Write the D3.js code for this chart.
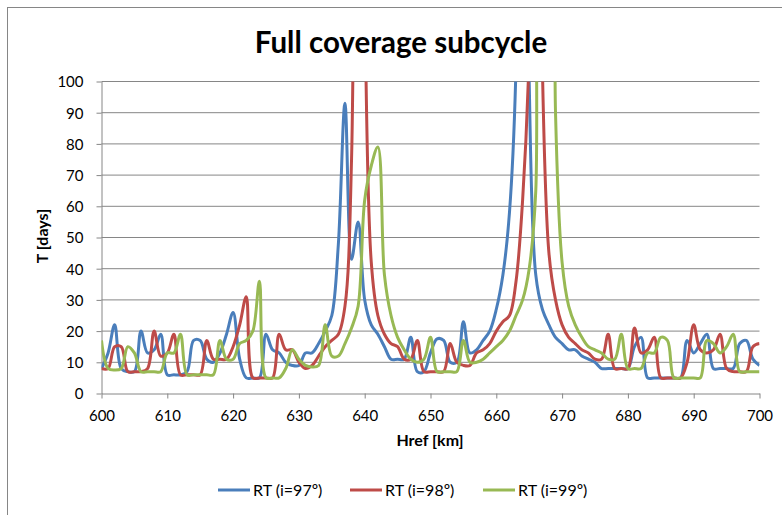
<!DOCTYPE html>
<html>
<head>
<meta charset="utf-8">
<script src="https://cdn.jsdelivr.net/npm/d3@7"></script>
<style>
  body { margin: 0; background: #fff; }
  text { font-family: Lato, "Open Sans", sans-serif; fill: #000; }
</style>
</head>
<body>
<div id="wrapper"></div>
<script>
// Href [km], one sample per km
const hrefKm = d3.range(600, 701);

// T [days] for each inclination
const rt97 = [8, 13, 22, 8, 7, 7, 20, 13, 14, 19,
  6, 6, 6, 7, 17, 17, 11, 10, 13, 19,
  26, 11, 5, 5, 5, 19, 14, 13, 10, 9,
  9, 13, 13, 16, 20, 25, 48, 93, 43, 55,
  30, 22, 19, 15, 11, 11, 11, 18, 7, 7,
  13, 17.5, 17, 10, 10, 23, 13, 14, 17, 20,
  27, 38, 58, 105, 400, 100, 38, 27, 22, 18,
  16, 14, 14, 12, 11, 10, 8, 8, 8, 8,
  8, 15, 18, 5, 5, 5, 5, 5, 5, 17,
  13, 16, 19, 8, 8, 8, 8, 16, 17, 11,
  9];
const rt98 = [8, 8, 15, 15, 7, 7, 7, 8, 20, 12,
  13, 19, 6, 6, 6, 6, 17, 11, 11, 11,
  15, 22, 31, 5, 5, 5, 5, 19, 14, 14,
  10, 8, 9, 12, 15, 17, 19, 28, 75, 400,
  130, 42, 25, 19, 16, 15, 11, 11, 17, 7,
  7, 7, 7, 16, 10, 9, 9, 13, 14, 16,
  20, 23, 25, 36, 62, 110, 400, 105, 45, 30,
  22, 18, 16, 14, 13, 11, 11, 19, 8, 8,
  8, 21, 13, 14, 18, 5, 5, 5, 5, 10,
  22, 14, 13, 14, 19, 8, 7, 7, 7, 15,
  16];
const rt99 = [17, 8, 7.5, 8, 15, 13, 7, 7, 7, 7,
  13, 13, 19, 6, 6, 6, 6, 6, 17, 11,
  11, 16, 17, 20, 36, 5, 5, 5, 8, 14,
  11, 9, 8.5, 9, 22, 12, 12, 16, 21, 28,
  62, 73, 79, 38, 25, 18, 14, 11, 10, 11,
  18, 7, 7, 7, 7, 17, 10, 10, 11, 13,
  15, 17, 20, 25, 30, 40, 65, 400, 400, 90,
  42, 28, 22, 18, 15, 14, 13, 11, 11, 19,
  8, 8, 8, 13, 13, 18, 17, 5, 5, 5,
  5, 5, 17, 16, 13, 15, 19, 7, 7, 7,
  7];

const seriesNames = ["RT (i=97º)", "RT (i=98º)", "RT (i=99º)"];
const seriesColors = ["#4a7ebb", "#be4b48", "#98b954"];
const xTicks = [600, 610, 620, 630, 640, 650, 660, 670, 680, 690, 700];
const yTicks = [0, 10, 20, 30, 40, 50, 60, 70, 80, 90, 100];

const dimensions = {
  width: 782,
  height: 515,
  margin: {top: 81.5, left: 101.5, bottom: 121.5, right: 22.5}
};
dimensions.boundedWidth = dimensions.width - dimensions.margin.left - dimensions.margin.right;
dimensions.boundedHeight = dimensions.height - dimensions.margin.top - dimensions.margin.bottom;

const wrapper = d3.select("#wrapper").append("svg")
  .attr("width", dimensions.width)
  .attr("height", dimensions.height);

// chart area frame
wrapper.append("rect")
  .attr("x", 7.5).attr("y", 7.5)
  .attr("width", 800).attr("height", 600)
  .attr("fill", "none")
  .attr("stroke", "#868686");

const container = wrapper.append("g")
  .attr("transform", `translate(${dimensions.margin.left}, ${dimensions.margin.top})`);

const xScale = d3.scaleLinear().domain([600, 700]).range([0, dimensions.boundedWidth]);
const yScale = d3.scaleLinear().domain([0, 100]).range([dimensions.boundedHeight, 0]);

// gridlines
container.append("g")
  .selectAll("line")
  .data(yTicks.slice(1))
  .enter()
  .append("line")
  .attr("x1", 0)
  .attr("x2", dimensions.boundedWidth)
  .attr("y1", d => yScale(d))
  .attr("y2", d => yScale(d))
  .attr("stroke", "#868686")
  .attr("stroke-width", 1);

// axes
const axisX = container.append("g")
  .attr("transform", `translate(0, ${dimensions.boundedHeight})`)
  .call(d3.axisBottom(xScale).tickValues(xTicks).tickSize(5).tickSizeOuter(0).tickPadding(12));
const axisY = container.append("g")
  .call(d3.axisLeft(yScale).tickValues(yTicks).tickSize(5).tickSizeOuter(0).tickPadding(13));

[axisX, axisY].forEach(a => {
  a.select(".domain").attr("stroke", "#868686");
  a.selectAll(".tick line").attr("stroke", "#868686");
  a.selectAll(".tick text")
    .style("font-family", "Lato, sans-serif")
    .style("font-size", "15px")
    .attr("fill", "#000");
});
axisY.selectAll(".tick text").attr("dy", "0.36em");

// lines, clipped to the plot area
container.append("clipPath").attr("id", "plotClip")
  .append("rect")
  .attr("x", 0).attr("y", 0)
  .attr("width", dimensions.boundedWidth)
  .attr("height", dimensions.boundedHeight);

const lineGen = d3.line()
  .x((d, i) => xScale(hrefKm[i]))
  .y(d => yScale(d))
  .curve(d3.curveCatmullRom.alpha(0.5));

const lines = container.append("g").attr("clip-path", "url(#plotClip)");
[rt97, rt98, rt99].forEach((s, k) => {
  lines.append("path")
    .datum(s)
    .attr("d", lineGen)
    .attr("fill", "none")
    .attr("stroke", seriesColors[k])
    .attr("stroke-width", 3)
    .attr("stroke-linejoin", "round");
});

// title
wrapper.append("text")
  .attr("x", 401)
  .attr("y", 53)
  .attr("text-anchor", "middle")
  .style("font-size", "29.5px")
  .style("font-weight", "bold")
  .text("Full coverage subcycle");

// X text
wrapper.append("text")
  .attr("x", 430)
  .attr("y", 446)
  .attr("text-anchor", "middle")
  .style("font-size", "16px")
  .style("font-weight", "bold")
  .text("Href [km]");

// Y text
wrapper.append("text")
  .attr("transform", "translate(48, 236) rotate(-90)")
  .attr("text-anchor", "middle")
  .style("font-size", "16px")
  .style("font-weight", "bold")
  .text("T [days]");

// legend
const legendX = [218, 350, 483];
const legend = wrapper.append("g");
seriesNames.forEach((name, k) => {
  legend.append("line")
    .attr("x1", legendX[k]).attr("x2", legendX[k] + 32)
    .attr("y1", 490).attr("y2", 490)
    .attr("stroke", seriesColors[k])
    .attr("stroke-width", 3);
  legend.append("text")
    .attr("x", legendX[k] + 35)
    .attr("y", 495.5)
    .style("font-size", "16px")
    .text(name);
});
</script>
</body>
</html>
